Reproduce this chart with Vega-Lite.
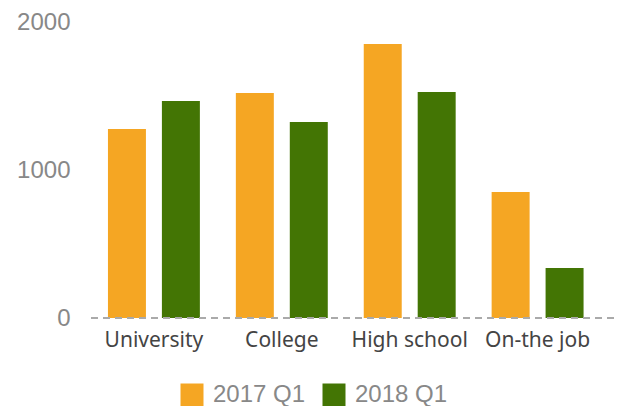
{
  "$schema": "https://vega.github.io/schema/vega-lite/v6.json",
  "autosize": {"type": "none"},
  "padding": {"left": 88, "top": 22, "right": 6, "bottom": 88},
  "width": 526,
  "height": 296,
  "background": "white",
  "config": {"view": {"stroke": null}},
  "data": {"values": [
    {"category": "University", "period": "2017 Q1", "value": 1277},
    {"category": "University", "period": "2018 Q1", "value": 1466},
    {"category": "College", "period": "2017 Q1", "value": 1520},
    {"category": "College", "period": "2018 Q1", "value": 1324},
    {"category": "High school", "period": "2017 Q1", "value": 1851},
    {"category": "High school", "period": "2018 Q1", "value": 1527},
    {"category": "On-the job", "period": "2017 Q1", "value": 851},
    {"category": "On-the job", "period": "2018 Q1", "value": 338}
  ]},
  "layer": [
    {
      "mark": {"type": "bar"},
      "encoding": {
        "x": {
          "field": "category", "type": "nominal", "sort": null,
          "scale": {"paddingInner": 0.28125, "paddingOuter": 0.197, "align": 0.396},
          "axis": {"title": null, "domain": false, "ticks": false, "labelAngle": 0, "labelFont": "Noto Sans", "labelFontSize": 21, "labelColor": "#444444", "labelPadding": 11}
        },
        "xOffset": {"field": "period", "type": "nominal", "scale": {"paddingInner": 0.296, "paddingOuter": 0}},
        "y": {
          "field": "value", "type": "quantitative",
          "scale": {"domain": [0, 2000], "nice": false},
          "axis": {"title": null, "domain": false, "ticks": false, "grid": false, "values": [0, 1000, 2000], "format": "d", "labelFont": "Liberation Sans", "labelFontSize": 24, "labelColor": "#888888", "labelPadding": 18}
        },
        "color": {
          "field": "period", "type": "nominal",
          "scale": {"domain": ["2017 Q1", "2018 Q1"], "range": ["#F5A623", "#437504"]},
          "legend": {"title": null, "orient": "none", "legendX": 92, "legendY": 361, "direction": "horizontal", "symbolType": "square", "symbolSize": 529, "symbolStrokeWidth": 0, "symbolOpacity": 1, "labelFont": "Liberation Sans", "labelFontSize": 24, "labelColor": "#888888", "labelOffset": 9, "columnPadding": 16}
        }
      }
    },
    {
      "mark": {"type": "rule", "strokeDash": [7, 5], "color": "#aaaaaa", "strokeWidth": 2},
      "encoding": {"y": {"datum": 0}}
    }
  ]
}
